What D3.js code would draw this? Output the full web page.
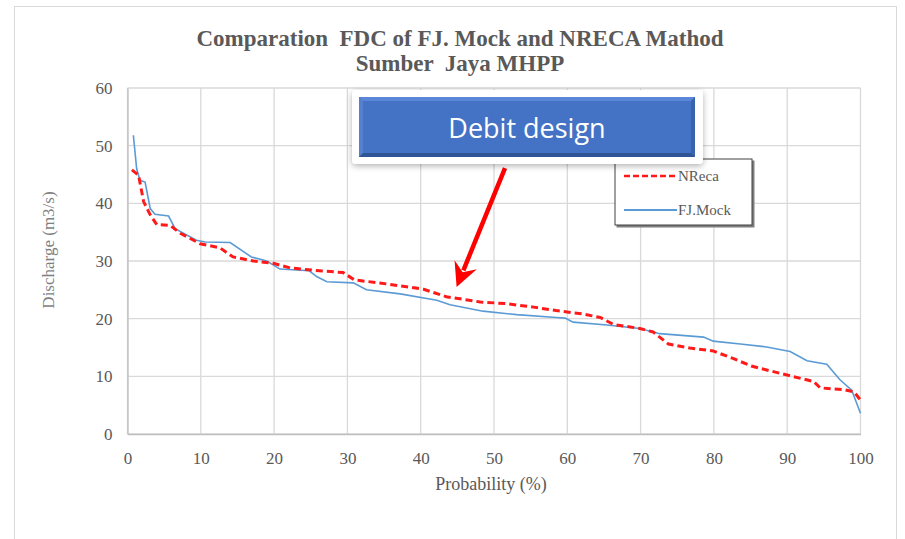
<!DOCTYPE html>
<html>
<head>
<meta charset="utf-8">
<script src="https://cdn.jsdelivr.net/npm/d3@7"></script>
<style>
  body { margin: 0; background: #fff; }
  svg { display: block; }
  .pre { white-space: pre; }
</style>
</head>
<body>
<svg id="chart" width="905" height="539"></svg>
<script>
// ---------- data ----------
const titleLines = ["Comparation  FDC of FJ. Mock and NRECA Mathod", "Sumber  Jaya MHPP"];
const xTicks = [0, 10, 20, 30, 40, 50, 60, 70, 80, 90, 100];
const yTicks = [0, 10, 20, 30, 40, 50, 60];
const xLabel = "Probability (%)";
const yLabel = "Discharge (m3/s)";
const seriesNames = ["NReca", "FJ.Mock"];

const nrecaProb = [0.6, 1.5, 2.2, 3.1, 4, 5.8, 7.2, 9.9, 12.6, 14.4, 17.2, 19.9, 22.2, 25.3, 29.4, 31, 34.4, 40.4, 43.5, 48.1, 51.7, 55.4, 58.5, 62.2, 64.5, 66.3, 69.9, 71.7, 73.8, 76.7, 79.9, 82.6, 85.1, 87.2, 90.4, 93.6, 94.5, 97.7, 99.1, 100];
const nrecaQ    = [45.8, 44.9, 40.3, 38, 36.3, 36.2, 34.8, 33, 32.3, 30.7, 30, 29.6, 28.8, 28.4, 28, 26.7, 26.2, 25.1, 23.8, 22.9, 22.6, 22, 21.4, 20.8, 20.2, 19, 18.3, 17.7, 15.6, 14.9, 14.4, 13.1, 11.8, 11.1, 10.1, 9.1, 8.0, 7.7, 7.3, 5.9];

const mockProb = [0.8, 1.25, 1.7, 2.4, 3.1, 3.75, 5.6, 6.5, 9.4, 10.6, 14, 16.9, 19, 20.8, 24.8, 25.8, 27.2, 30.8, 32.6, 37.2, 42.2, 44, 48.5, 53.1, 58.5, 59.7, 60.8, 65.4, 69.9, 72.6, 78.6, 79.9, 83.6, 87.2, 90.4, 92.7, 95.4, 97.2, 98.8, 100];
const mockQ    = [51.8, 46, 44, 43.7, 39.1, 38.1, 37.8, 35.6, 33.6, 33.3, 33.2, 30.7, 30, 28.6, 28.3, 27.3, 26.4, 26.2, 25, 24.3, 23.2, 22.4, 21.3, 20.7, 20.2, 20.1, 19.4, 18.9, 18.3, 17.4, 16.8, 16.1, 15.6, 15.1, 14.3, 12.7, 12.1, 9.4, 7.6, 3.6];

const calloutText = "Debit design";
const arrowFrom = [51.5, 46.1];  // probability, discharge
const arrowTo   = [44.9, 25.5];

// ---------- layout ----------
const svg = d3.select("#chart");
const L = 127.5, R = 860.5, T = 88, B = 434;
const x = d3.scaleLinear().domain([0, 100]).range([L, R]);
const y = d3.scaleLinear().domain([0, 60]).range([B, T]);
const grey = "#595959";

// outer chart border
svg.append("rect").attr("x", 14.5).attr("y", 6.5).attr("width", 882).attr("height", 540)
  .attr("fill", "#fff").attr("stroke", "#d9d9d9").attr("stroke-width", 1);

// title
svg.append("g").selectAll("text").data(titleLines).join("text")
  .attr("class", "pre")
  .attr("x", 460).attr("y", (d, i) => 46 + i * 25)
  .attr("text-anchor", "middle")
  .attr("font-family", "Liberation Serif, serif").attr("font-weight", "bold")
  .attr("font-size", 23).attr("fill", grey)
  .text(d => d);

// gridlines
svg.append("g").selectAll("line").data(xTicks).join("line")
  .attr("x1", d => x(d)).attr("x2", d => x(d)).attr("y1", T).attr("y2", B)
  .attr("stroke", "#d9d9d9").attr("stroke-width", 1.3);
svg.append("g").selectAll("line").data(yTicks).join("line")
  .attr("x1", L).attr("x2", R).attr("y1", d => y(d)).attr("y2", d => y(d))
  .attr("stroke", "#d9d9d9").attr("stroke-width", 1.3);

// axes
const xAxis = svg.append("g").attr("transform", `translate(0,${B})`)
  .call(d3.axisBottom(x).tickValues(xTicks).tickSize(0).tickPadding(18));
const yAxis = svg.append("g").attr("transform", `translate(${L},0)`)
  .call(d3.axisLeft(y).tickValues(yTicks).tickSize(0).tickPadding(15));
[xAxis, yAxis].forEach(a => {
  a.select(".domain").attr("stroke", "#bfbfbf").attr("stroke-width", 1.3);
  a.selectAll("text").attr("font-family", "Liberation Serif, serif")
    .attr("font-size", 17).attr("fill", grey);
});

// axis titles
svg.append("text").attr("x", 491).attr("y", 490).attr("text-anchor", "middle")
  .attr("font-family", "Liberation Serif, serif").attr("font-size", 18).attr("fill", grey)
  .text(xLabel);
svg.append("text").attr("transform", "translate(54,250) rotate(-90)").attr("text-anchor", "middle")
  .attr("font-family", "Liberation Serif, serif").attr("font-size", 17).attr("fill", "#7f7f7f")
  .text(yLabel);

// series
const line = d3.line().x(d => x(d[0])).y(d => y(d[1]));
const mockData = mockProb.map((p, i) => [p, mockQ[i]]);
const nrecaData = nrecaProb.map((p, i) => [p, nrecaQ[i]]);
svg.append("path").datum(mockData).attr("d", line)
  .attr("fill", "none").attr("stroke", "#5b9bd5").attr("stroke-width", 1.6);
svg.append("path").datum(nrecaData).attr("d", line)
  .attr("fill", "none").attr("stroke", "#ff1a1a").attr("stroke-width", 3)
  .attr("stroke-dasharray", "7,4");

// legend
const lg = svg.append("g").attr("transform", "translate(615,159)");
lg.append("rect").attr("x", 1.5).attr("y", 1.5).attr("width", 138).attr("height", 67).attr("fill", "#7f7f7f");
lg.append("rect").attr("x", 0).attr("y", 0).attr("width", 137).attr("height", 66)
  .attr("fill", "#fff").attr("stroke", "#404040").attr("stroke-width", 1);
const legendItems = [
  { name: seriesNames[0], color: "#ff1a1a", dash: "6,3", w: 2.5, yy: 17 },
  { name: seriesNames[1], color: "#5b9bd5", dash: null, w: 2, yy: 51 }
];
legendItems.forEach(it => {
  lg.append("line").attr("x1", 9).attr("x2", 62).attr("y1", it.yy).attr("y2", it.yy)
    .attr("stroke", it.color).attr("stroke-width", it.w).attr("stroke-dasharray", it.dash);
  lg.append("text").attr("x", 63).attr("y", it.yy + 5)
    .attr("font-family", "Liberation Serif, serif").attr("font-size", 15).attr("fill", grey)
    .text(it.name);
});

// arrow
const defs = svg.append("defs");
const f = defs.append("filter").attr("id", "sh").attr("x", "-10%").attr("y", "-20%").attr("width", "120%").attr("height", "150%");
f.append("feDropShadow").attr("dx", 0).attr("dy", 2).attr("stdDeviation", 3).attr("flood-color", "#000").attr("flood-opacity", 0.3);

const ax1 = x(arrowFrom[0]), ay1 = y(arrowFrom[1]);
const ax2 = x(arrowTo[0]), ay2 = y(arrowTo[1]);
const ang = Math.atan2(ay2 - ay1, ax2 - ax1);
const headLen = 24, headW = 12;
const bx = ax2 - headLen * Math.cos(ang), by = ay2 - headLen * Math.sin(ang);
svg.append("line").attr("x1", ax1).attr("y1", ay1).attr("x2", bx + 6 * Math.cos(ang)).attr("y2", by + 6 * Math.sin(ang))
  .attr("stroke", "#ff0000").attr("stroke-width", 4.5);
const nx = -Math.sin(ang), ny = Math.cos(ang);
svg.append("path")
  .attr("d", `M${ax2},${ay2} L${bx + headW * nx},${by + headW * ny} L${bx + 8 * Math.cos(ang)},${by + 8 * Math.sin(ang)} L${bx - headW * nx},${by - headW * ny} Z`)
  .attr("fill", "#ff0000");

// callout
const cg = svg.append("g");
cg.append("rect").attr("x", 352).attr("y", 90).attr("width", 351).attr("height", 74).attr("rx", 4)
  .attr("fill", "#fff").attr("filter", "url(#sh)");
const bxL = 359, bxT = 97, bxW = 336, bxH = 60, bev = 4;
cg.append("rect").attr("x", bxL).attr("y", bxT).attr("width", bxW).attr("height", bxH).attr("fill", "#4472c4");
cg.append("path").attr("d", `M${bxL},${bxT} L${bxL + bxW},${bxT} L${bxL + bxW - bev},${bxT + bev} L${bxL + bev},${bxT + bev} Z`).attr("fill", "#5a87d8");
cg.append("path").attr("d", `M${bxL},${bxT} L${bxL + bev},${bxT + bev} L${bxL + bev},${bxT + bxH - bev} L${bxL},${bxT + bxH} Z`).attr("fill", "#5580cf");
cg.append("path").attr("d", `M${bxL + bxW},${bxT} L${bxL + bxW},${bxT + bxH} L${bxL + bxW - bev},${bxT + bxH - bev} L${bxL + bxW - bev},${bxT + bev} Z`).attr("fill", "#3a63ad");
cg.append("path").attr("d", `M${bxL},${bxT + bxH} L${bxL + bxW},${bxT + bxH} L${bxL + bxW - bev},${bxT + bxH - bev} L${bxL + bev},${bxT + bxH - bev} Z`).attr("fill", "#2f5597");
cg.append("text").attr("x", bxL + bxW / 2).attr("y", 138).attr("text-anchor", "middle")
  .attr("font-family", "Open Sans, sans-serif").attr("font-size", 27).attr("fill", "#fff")
  .text(calloutText);
</script>
</body>
</html>
